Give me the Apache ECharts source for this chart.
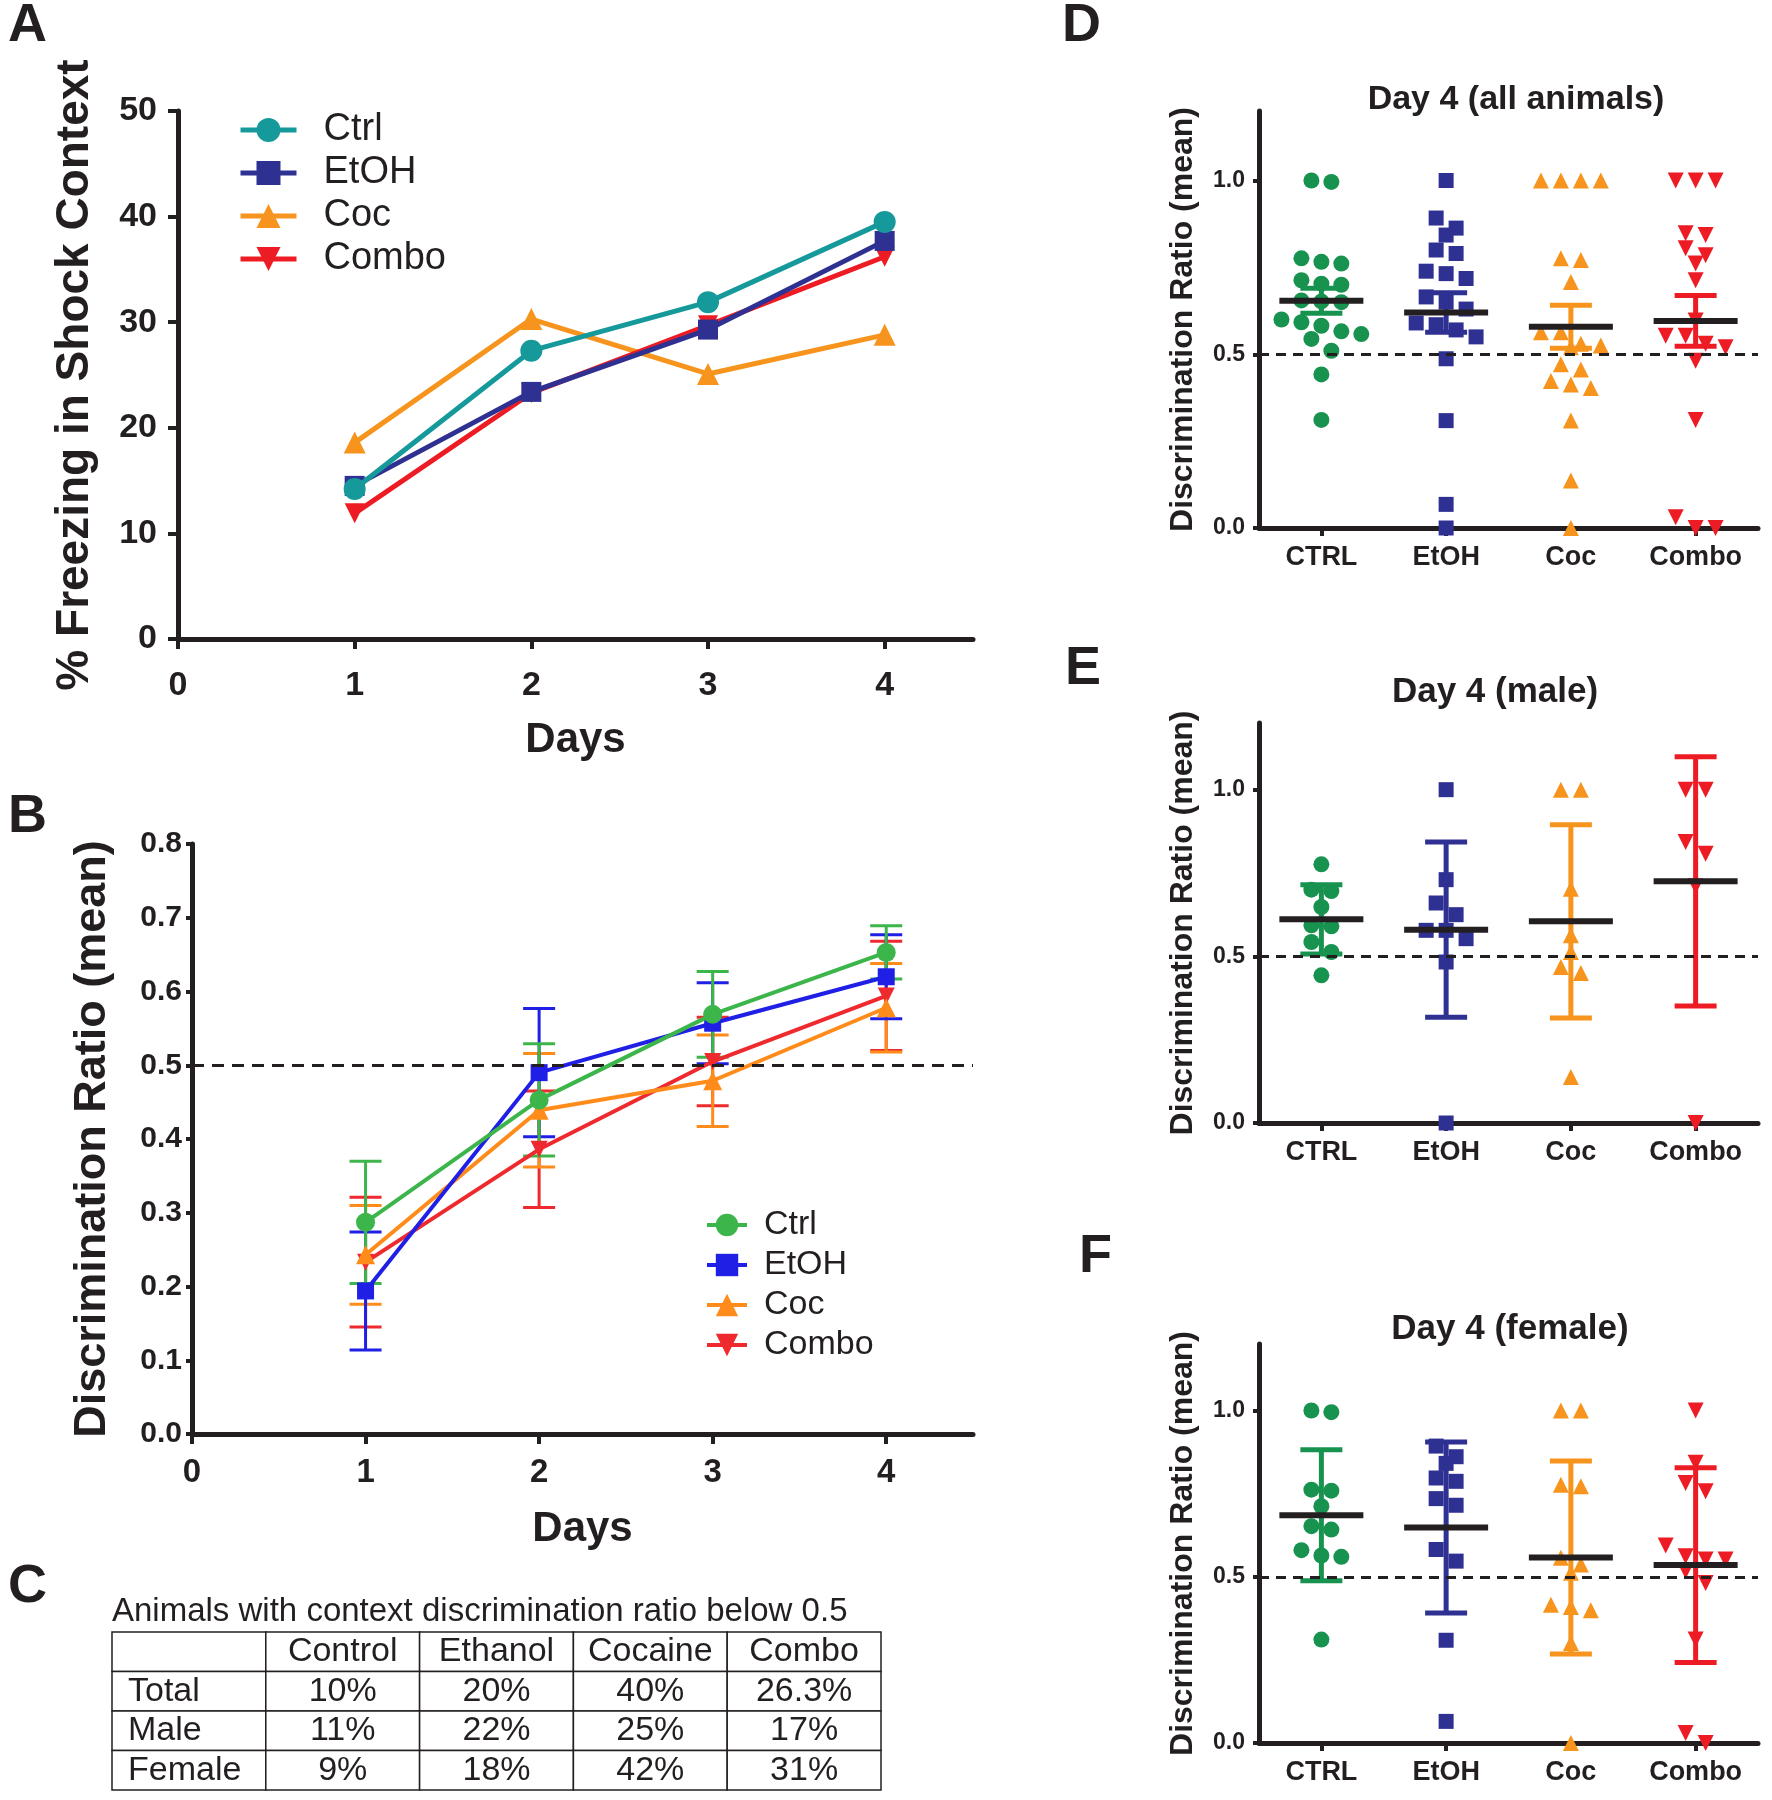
<!DOCTYPE html>
<html>
<head>
<meta charset="utf-8">
<script src="https://cdn.jsdelivr.net/npm/echarts@6/dist/echarts.min.js"></script>
<style>
html, body { margin: 0; padding: 0; background: #fff; }
#main { width: 1772px; height: 1800px; }
</style>
</head>
<body>
<div id="main"></div>
<script>
var FONT = '"Liberation Sans", Arial, sans-serif';
var INK = '#231f20';

// shared
var days = [1, 2, 3, 4];
var dayTicks = [0, 1, 2, 3, 4];
var groupNames = ['Ctrl', 'EtOH', 'Coc', 'Combo'];
var groupLabels = ['CTRL', 'EtOH', 'Coc', 'Combo'];
var ratioTicks = [0, 0.5, 1];

// A: % freezing in shock context
var freezeCtrl = [14.2, 27.3, 31.9, 39.5];
var freezeEtoh = [14.5, 23.4, 29.3, 37.7];
var freezeCoc = [18.6, 30.3, 25.1, 28.8];
var freezeCombo = [11.9, 23.3, 29.7, 36.2];

// B: discrimination ratio by day (mean, sem)
var ratioCtrl = [0.287, 0.453, 0.569, 0.653];
var ratioCtrlErr = [0.083, 0.076, 0.058, 0.036];
var ratioEtoh = [0.194, 0.490, 0.557, 0.620];
var ratioEtohErr = [0.080, 0.087, 0.055, 0.057];
var ratioCoc = [0.243, 0.439, 0.479, 0.578];
var ratioCocErr = [0.067, 0.077, 0.062, 0.060];
var ratioCombo = [0.233, 0.386, 0.505, 0.594];
var ratioComboErr = [0.088, 0.079, 0.060, 0.074];

// C: table
var tableTitle = 'Animals with context discrimination ratio below 0.5';
var tableHead = ['', 'Control', 'Ethanol', 'Cocaine', 'Combo'];
var tableRows = ['Total', 'Male', 'Female'];
var pctTotal = ['10%', '20%', '40%', '26.3%'];
var pctMale = ['11%', '22%', '25%', '17%'];
var pctFemale = ['9%', '18%', '42%', '31%'];

// D: day 4, all animals
var dCtrl = [1.0, 0.996, 0.776, 0.766, 0.761, 0.713, 0.703, 0.700, 0.655, 0.652, 0.650, 0.600, 0.592, 0.582, 0.566, 0.558, 0.544, 0.510, 0.442, 0.311];
var dEtoh = [1.0, 0.892, 0.863, 0.843, 0.800, 0.790, 0.739, 0.732, 0.718, 0.665, 0.650, 0.630, 0.590, 0.585, 0.570, 0.550, 0.487, 0.309, 0.068, 0.0];
var dCoc = [1.0, 1.0, 1.0, 1.0, 0.776, 0.771, 0.708, 0.563, 0.563, 0.530, 0.525, 0.520, 0.471, 0.456, 0.423, 0.413, 0.403, 0.309, 0.137, 0.0];
var dCombo = [1.0, 1.0, 1.0, 0.848, 0.843, 0.805, 0.785, 0.761, 0.713, 0.597, 0.553, 0.553, 0.530, 0.520, 0.481, 0.311, 0.031, 0.0, 0.0];
var dMean = [0.654, 0.620, 0.579, 0.596];
var dErr = [0.036, 0.057, 0.062, 0.073];

// E: day 4, male
var eCtrl = [0.776, 0.700, 0.696, 0.648, 0.593, 0.590, 0.543, 0.513, 0.443];
var eEtoh = [1.0, 0.730, 0.660, 0.625, 0.578, 0.578, 0.553, 0.483, 0.0];
var eCoc = [1.0, 1.0, 0.703, 0.563, 0.513, 0.468, 0.450, 0.138];
var eCombo = [1.0, 1.0, 0.843, 0.808, 0.710, 0.0];
var eMean = [0.611, 0.580, 0.605, 0.725];
var eErr = [0.104, 0.263, 0.290, 0.374];

// F: day 4, female
var fCtrl = [1.0, 0.995, 0.762, 0.759, 0.712, 0.652, 0.642, 0.580, 0.564, 0.560, 0.311];
var fEtoh = [0.893, 0.861, 0.841, 0.797, 0.787, 0.735, 0.715, 0.582, 0.547, 0.309, 0.065];
var fCoc = [1.0, 1.0, 0.777, 0.772, 0.557, 0.537, 0.512, 0.416, 0.409, 0.399, 0.301, 0.0];
var fCombo = [1.0, 0.843, 0.782, 0.757, 0.594, 0.562, 0.552, 0.552, 0.517, 0.481, 0.311, 0.030, 0.0];
var fMean = [0.685, 0.648, 0.558, 0.535];
var fErr = [0.197, 0.257, 0.290, 0.293];

var colA = ['#16999b', '#2e3192', '#f7941d', '#ed1c24'];
var colB = ['#3cb54a', '#1f1fe6', '#ff8c1a', '#ee2a2e'];
var colD = ['#17924f', '#2e3192', '#f7941d', '#ed1c24'];
var downTri = 'path://M0,0L10,0L5,9Z';
var symbols = ['circle', 'rect', 'triangle', downTri];

var chart = echarts.init(document.getElementById('main'));

// prism-like column scatter: values close together are spread side by side
function swarm(vals, xc, step, tol) {
    var sorted = vals.slice().sort(function (a, b) { return b - a; });
    var out = [], row = [];
    function flush() {
        var n = row.length;
        row.forEach(function (v, i) { out.push([xc + (i - (n - 1) / 2) * step, v]); });
        row = [];
    }
    sorted.forEach(function (v) {
        if (row.length && row[0] - v > tol) flush();
        row.push(v);
    });
    flush();
    return out;
}

function lineSeries(name, vals, color, symbol, size, idx, z, width) {
    return {
        name: name, type: 'line', xAxisIndex: idx, yAxisIndex: idx, z: z,
        data: days.map(function (d, i) { return [d, vals[i]]; }),
        symbol: symbol, symbolSize: size, showAllSymbol: true,
        lineStyle: {width: width, color: color},
        itemStyle: {color: color},
        emphasis: {disabled: true}, silent: true
    };
}

function errSeries(vals, err, color, z) {
    return {
        type: 'custom', xAxisIndex: 1, yAxisIndex: 1, z: z, silent: true,
        data: days.map(function (d, i) { return [d, vals[i], err[i]]; }),
        renderItem: function (params, api) {
            var x = api.value(0), m = api.value(1), e = api.value(2);
            var hi = api.coord([x, m + e]), lo = api.coord([x, m - e]);
            var st = {stroke: color, lineWidth: 3};
            return {type: 'group', children: [
                {type: 'line', shape: {x1: hi[0], y1: hi[1], x2: lo[0], y2: lo[1]}, style: st},
                {type: 'line', shape: {x1: hi[0] - 16, y1: hi[1], x2: hi[0] + 16, y2: hi[1]}, style: st},
                {type: 'line', shape: {x1: lo[0] - 16, y1: lo[1], x2: lo[0] + 16, y2: lo[1]}, style: st}
            ]};
        }
    };
}

function dotPanel(tag, xi, yi, groups, mean, err) {
    var list = [];
    groups.forEach(function (vals, g) {
        list.push({
            name: tag + ' ' + groupNames[g], type: 'scatter', xAxisIndex: xi, yAxisIndex: yi, z: 2,
            symbol: symbols[g], symbolSize: g === 1 ? 15 : 16,
            itemStyle: {color: colD[g], opacity: 1}, silent: true,
            data: swarm(vals, g + 1, 0.16, 0.042)
        });
    });
    list.push({
        type: 'custom', xAxisIndex: xi, yAxisIndex: yi, z: 3, silent: true,
        data: mean.map(function (m, i) { return [i + 1, m, err[i]]; }),
        renderItem: function (params, api) {
            var x = api.value(0), m = api.value(1), e = api.value(2);
            var hi = api.coord([x, m + e]), lo = api.coord([x, m - e]), mid = api.coord([x, m]);
            var st = {stroke: colD[params.dataIndex], lineWidth: 5};
            return {type: 'group', children: [
                {type: 'line', shape: {x1: hi[0], y1: hi[1], x2: lo[0], y2: lo[1]}, style: st},
                {type: 'line', shape: {x1: hi[0] - 21, y1: hi[1], x2: hi[0] + 21, y2: hi[1]}, style: st},
                {type: 'line', shape: {x1: lo[0] - 21, y1: lo[1], x2: lo[0] + 21, y2: lo[1]}, style: st},
                {type: 'line', shape: {x1: mid[0] - 42, y1: mid[1], x2: mid[0] + 42, y2: mid[1]}, style: {stroke: INK, lineWidth: 6}}
            ]};
        }
    });
    list.push({
        type: 'scatter', xAxisIndex: xi, yAxisIndex: yi, z: 4, data: [], silent: true,
        markLine: {
            symbol: 'none', silent: true, label: {show: false}, animation: false,
            lineStyle: {type: [10, 7], color: INK, width: 3},
            data: [{yAxis: 0.5}]
        }
    });
    return list;
}

function valueAxis(grid, min, max, interval, fontSize, margin, extra) {
    var ax = {
        type: 'value', gridIndex: grid, min: min, max: max, interval: interval,
        axisLine: {show: true, onZero: false, lineStyle: {color: INK, width: 5}},
        axisTick: {show: true, length: 10, lineStyle: {color: INK, width: 4}},
        axisLabel: {color: INK, fontSize: fontSize, fontWeight: 'bold', fontFamily: FONT, margin: margin},
        splitLine: {show: false}
    };
    return Object.assign(ax, extra || {});
}

function nameStyle(size) {
    return {color: INK, fontSize: size, fontWeight: 'bold', fontFamily: FONT};
}

function fix1(v) { return v.toFixed(1); }

var xAxes = [
    valueAxis(0, 0, 4.5, 1, 34, 30, {name: 'Days', nameLocation: 'middle', nameGap: 80, nameTextStyle: nameStyle(42)}),
    valueAxis(1, 0, 4.5, 1, 33, 22, {name: 'Days', nameLocation: 'middle', nameGap: 74, nameTextStyle: nameStyle(42)}),
    {type: 'category', gridIndex: 2, show: false, data: dayTicks},
    {type: 'category', gridIndex: 3, data: groupLabels},
    {type: 'value', gridIndex: 3, show: false, min: 0.5, max: 4.5},
    {type: 'category', gridIndex: 4, data: groupLabels},
    {type: 'value', gridIndex: 4, show: false, min: 0.5, max: 4.5},
    {type: 'category', gridIndex: 5, data: groupLabels},
    {type: 'value', gridIndex: 5, show: false, min: 0.5, max: 4.5}
];
xAxes[0].axisTick.customValues = dayTicks;
xAxes[0].axisLabel.customValues = dayTicks;
xAxes[1].axisTick.customValues = dayTicks;
xAxes[1].axisLabel.customValues = dayTicks;
[3, 5, 7].forEach(function (i) {
    Object.assign(xAxes[i], {
        boundaryGap: true,
        axisLine: {show: true, lineStyle: {color: INK, width: 5}},
        axisTick: {show: true, alignWithLabel: true, length: 8, lineStyle: {color: INK, width: 4}},
        axisLabel: {color: INK, fontSize: 27, fontWeight: 'bold', fontFamily: FONT, margin: 16}
    });
});

var yAxes = [
    valueAxis(0, 0, 50, 10, 34, 21, {name: '% Freezing in Shock Context', nameLocation: 'middle', nameGap: 80, nameTextStyle: nameStyle(46)}),
    valueAxis(1, 0, 0.8, 0.1, 30, 10, {name: 'Discrimination Ratio (mean)', nameLocation: 'middle', nameGap: 77, nameTextStyle: nameStyle(45)}),
    {type: 'category', gridIndex: 2, show: false, inverse: true, data: [0, 1, 2, 3]}
];
yAxes[1].axisLabel.formatter = fix1;
yAxes[1].axisTick.length = 6;
[3, 4, 5].forEach(function (g) {
    var ax = valueAxis(g, 0, 1.2, 0.5, 23, 14, {name: 'Discrimination Ratio (mean)', nameLocation: 'middle', nameGap: 60, nameTextStyle: nameStyle(32)});
    ax.axisTick.length = 6;
    ax.axisTick.customValues = ratioTicks;
    ax.axisLabel.customValues = ratioTicks;
    ax.axisLabel.formatter = fix1;
    yAxes.push(ax);
});

// table cells: [col, row, text]
var cells = [];
tableHead.forEach(function (h, c) { cells.push([c, 0, h]); });
[pctTotal, pctMale, pctFemale].forEach(function (vals, r) {
    cells.push([0, r + 1, tableRows[r]]);
    vals.forEach(function (v, c) { cells.push([c + 1, r + 1, v]); });
});

var series = [
    lineSeries('Coc', freezeCoc, colA[2], 'triangle', 22, 0, 2, 5),
    lineSeries('Combo', freezeCombo, colA[3], downTri, 20, 0, 3, 5),
    lineSeries('EtOH', freezeEtoh, colA[1], 'rect', 20, 0, 4, 5),
    lineSeries('Ctrl', freezeCtrl, colA[0], 'circle', 22, 0, 5, 5),
    errSeries(ratioCombo, ratioComboErr, colB[3], 1),
    errSeries(ratioCoc, ratioCocErr, colB[2], 1),
    errSeries(ratioEtoh, ratioEtohErr, colB[1], 1),
    errSeries(ratioCtrl, ratioCtrlErr, colB[0], 1),
    lineSeries('Combo ', ratioCombo, colB[3], downTri, 17, 1, 2, 4),
    lineSeries('Coc ', ratioCoc, colB[2], 'triangle', 19, 1, 3, 4),
    lineSeries('EtOH ', ratioEtoh, colB[1], 'rect', 17, 1, 4, 4),
    lineSeries('Ctrl ', ratioCtrl, colB[0], 'circle', 19, 1, 5, 4),
    {
        type: 'scatter', xAxisIndex: 1, yAxisIndex: 1, z: 1, data: [], silent: true,
        markLine: {
            symbol: 'none', silent: true, label: {show: false}, animation: false,
            lineStyle: {type: [12, 8], color: INK, width: 3},
            data: [{yAxis: 0.5}]
        }
    },
    {
        type: 'custom', xAxisIndex: 2, yAxisIndex: 2, silent: true,
        data: cells.map(function (c) { return [c[0], c[1]]; }),
        renderItem: function (params, api) {
            var c = api.value(0), r = api.value(1);
            var p = api.coord([c, r]), s = api.size([1, 1]);
            var rowHead = c === 0 && r > 0;
            var tx = rowHead ? p[0] - s[0] / 2 + 16 : p[0];
            return {type: 'group', children: [
                {type: 'rect', shape: {x: p[0] - s[0] / 2, y: p[1] - s[1] / 2, width: s[0], height: s[1]},
                    style: {fill: '#fff', stroke: INK, lineWidth: 1.5}},
                {type: 'text', style: {text: cells[params.dataIndex][2], x: tx, y: p[1],
                    align: rowHead ? 'left' : 'center', textAlign: rowHead ? 'left' : 'center',
                    verticalAlign: 'middle', textVerticalAlign: 'middle',
                    font: '34px ' + FONT, fill: INK}}
            ]};
        }
    }
];
series = series.concat(
    dotPanel('D', 4, 3, [dCtrl, dEtoh, dCoc, dCombo], dMean, dErr),
    dotPanel('E', 6, 4, [eCtrl, eEtoh, eCoc, eCombo], eMean, eErr),
    dotPanel('F', 8, 5, [fCtrl, fEtoh, fCoc, fCombo], fMean, fErr)
);

function label(text, x, y, size, weight, align) {
    return {
        type: 'text', x: x, y: y, silent: true,
        style: {text: text, font: weight + ' ' + size + 'px ' + FONT, fill: INK,
            align: align, textAlign: align, verticalAlign: 'middle', textVerticalAlign: 'middle'}
    };
}

var option = {
    animation: false,
    backgroundColor: '#fff',
    grid: [
        {left: 178, top: 111, width: 795, height: 528},
        {left: 192, top: 844, width: 781, height: 590},
        {left: 112, top: 1632, width: 769, height: 158},
        {left: 1259, top: 111, width: 499, height: 417},
        {left: 1259, top: 723, width: 499, height: 400},
        {left: 1259, top: 1344, width: 499, height: 399}
    ],
    legend: [
        {
            data: groupNames, orient: 'vertical', left: 233, top: 106,
            itemWidth: 56, itemHeight: 30, itemGap: 5, selectedMode: false,
            lineStyle: {width: 5},
            textStyle: {color: INK, fontSize: 38, lineHeight: 38, fontFamily: FONT, padding: [0, 0, 0, 22]}
        },
        {
            data: groupNames.map(function (n) { return n + ' '; }),
            formatter: function (n) { return n.trim(); },
            orient: 'vertical', left: 700, top: 1203,
            itemWidth: 40, itemHeight: 28, itemGap: 6, selectedMode: false,
            lineStyle: {width: 4},
            textStyle: {color: INK, fontSize: 34, lineHeight: 34, fontFamily: FONT, padding: [0, 0, 0, 12]}
        }
    ],
    xAxis: xAxes,
    yAxis: yAxes,
    series: series,
    graphic: [
        label('A', 8, 26, 54, 'bold', 'left'),
        label('B', 8, 817, 54, 'bold', 'left'),
        label('C', 8, 1587, 54, 'bold', 'left'),
        label('D', 1062, 26, 54, 'bold', 'left'),
        label('E', 1065, 669, 54, 'bold', 'left'),
        label('F', 1079, 1257, 54, 'bold', 'left'),
        label('Day 4 (all animals)', 1516, 100, 34, 'bold', 'center'),
        label('Day 4 (male)', 1495, 692, 35, 'bold', 'center'),
        label('Day 4 (female)', 1510, 1329, 35, 'bold', 'center'),
        label(tableTitle, 112, 1612, 33, 'normal', 'left')
    ]
};

chart.setOption(option);
</script>
</body>
</html>
